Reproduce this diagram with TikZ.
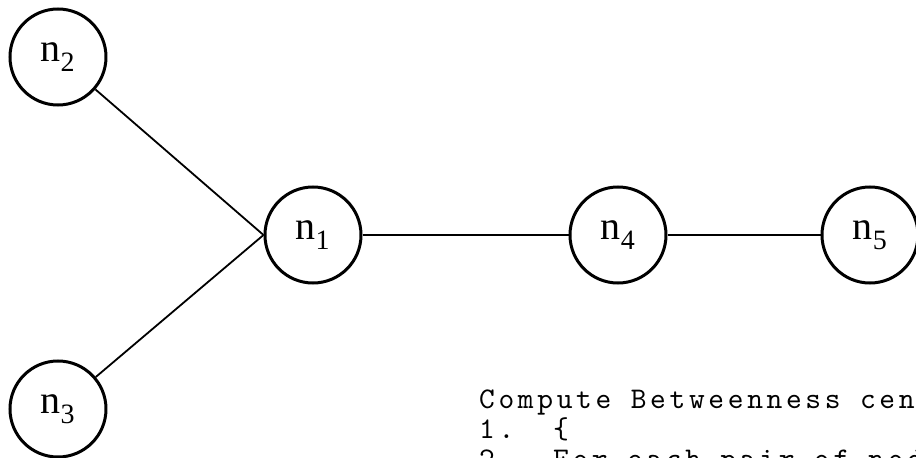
\documentclass[tikz,border=0pt]{standalone}
\usepackage{fontspec}
\setmainfont{Liberation Serif}
\newfontfamily\codefont{lmmono10-regular}[Extension=.otf, LetterSpace=12.2]
\usepackage{tikz}
\usetikzlibrary{positioning}
\tikzset{
    vertex/.style={draw, circle, line width=3pt, minimum size=96pt, inner sep=0pt,
        font=\fontsize{40}{40}\selectfont},
    link/.style={line width=1.8pt},
    listing/.style={font=\codefont\fontsize{30}{30}\selectfont, align=left, inner sep=0pt}
}

\begin{document}
\begin{tikzpicture}
    \useasboundingbox (-313pt,-223pt) rectangle (603pt,235pt);
    \clip (-313pt,-223pt) rectangle (603pt,235pt);

    % graph
    \node[vertex] (n1) at (0,0) {n\textsubscript{1}};
    \node[vertex] (n2) at (-255pt,178pt) {n\textsubscript{2}};
    \node[vertex] (n3) at (-255pt,-174pt) {n\textsubscript{3}};
    \node[vertex, right=206pt of n1] (n4) {n\textsubscript{4}};
    \node[vertex, right=153pt of n4] (n5) {n\textsubscript{5}};

    \draw[link] (n2) -- (n1.west);
    \draw[link] (n3) -- (n1.west);
    \draw[link] (n1) -- (n4);
    \draw[link] (n4) -- (n5);

    % pseudo code (base anchor sits on the last line)
    \node[listing, anchor=base west] (code) at (166pt,-233pt)
        {Compute Betweenness centrality\\1.\ \ \{\\2.\ \ For each pair of nodes};
\end{tikzpicture}
\end{document}
